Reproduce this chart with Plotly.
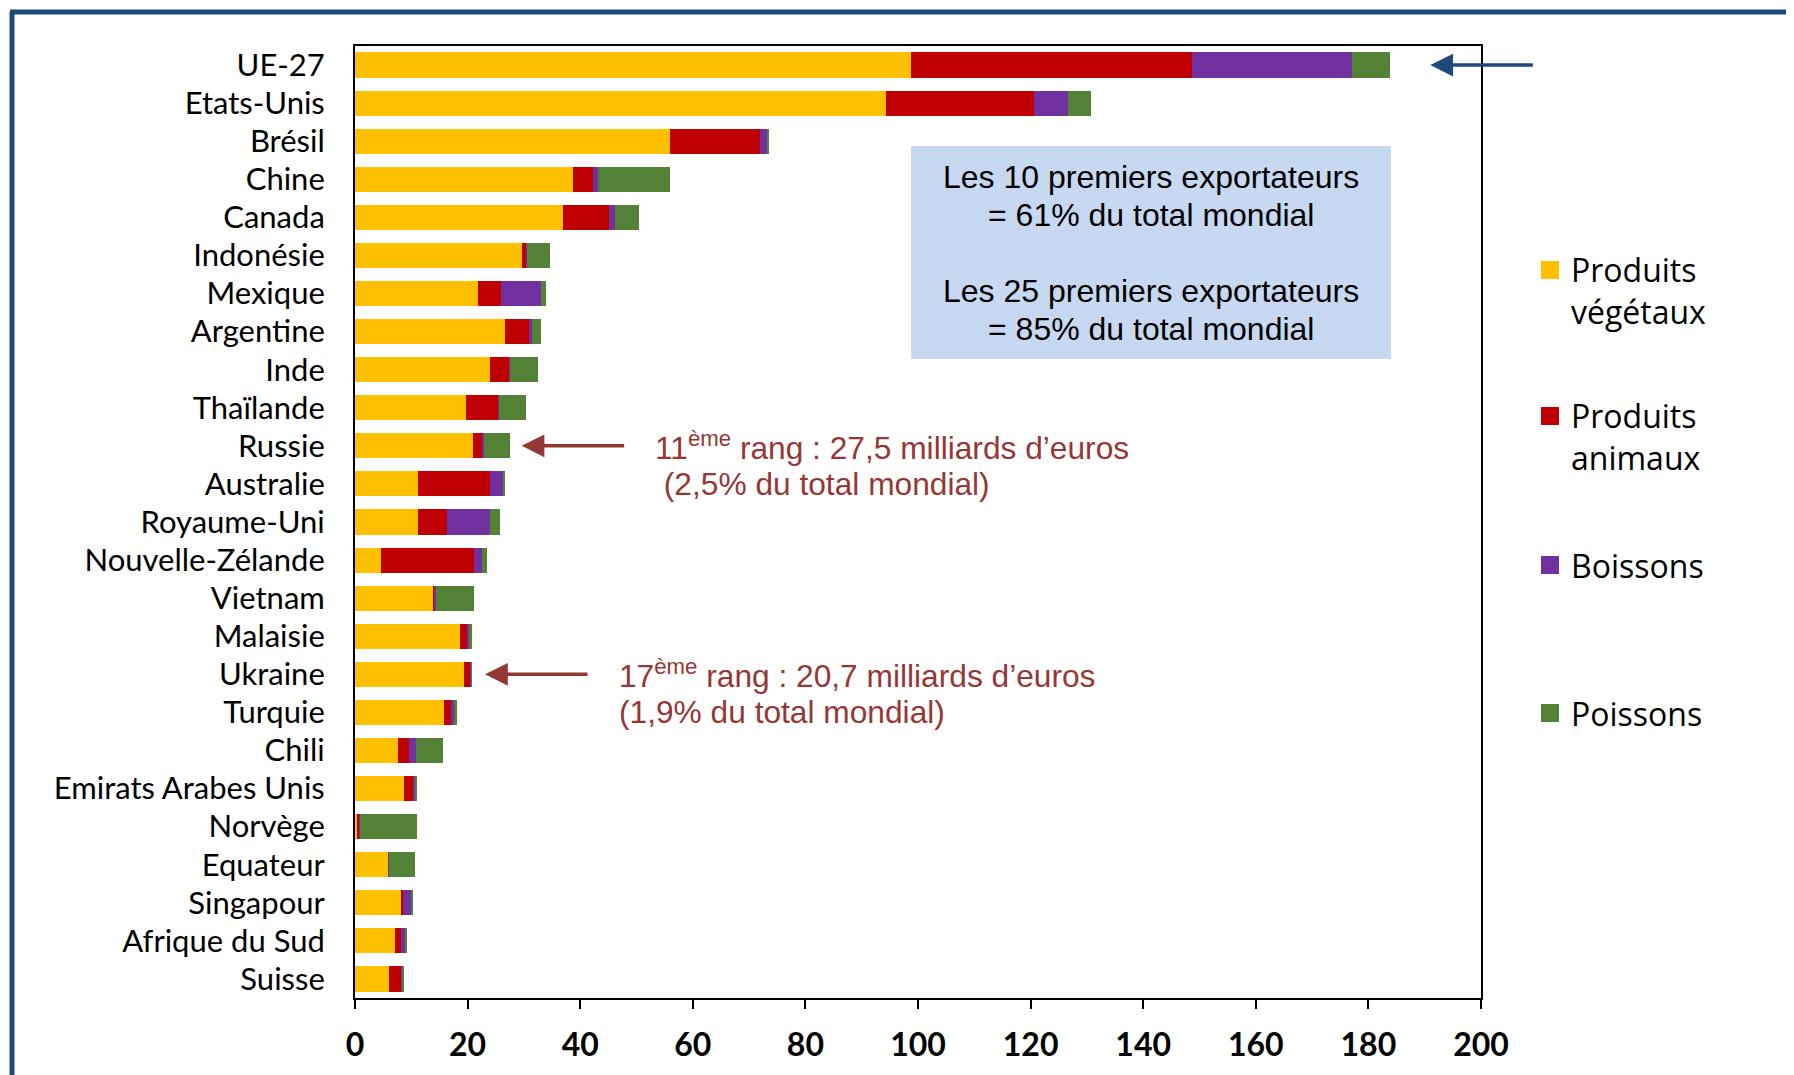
import plotly.graph_objects as go

countries = ["UE-27", "Etats-Unis", "Brésil", "Chine", "Canada", "Indonésie", "Mexique",
             "Argentine", "Inde", "Thaïlande", "Russie", "Australie", "Royaume-Uni",
             "Nouvelle-Zélande", "Vietnam", "Malaisie", "Ukraine", "Turquie", "Chili",
             "Emirats Arabes Unis", "Norvège", "Equateur", "Singapour", "Afrique du Sud", "Suisse"]

vegetaux = [98.7, 94.4, 56.0, 38.8, 37.0, 29.6, 21.9, 26.6, 24.0, 19.7, 20.9, 11.2, 11.2,
            4.7, 13.8, 18.7, 19.4, 15.8, 7.7, 8.7, 0.5, 5.9, 8.1, 7.1, 6.1]
animaux = [49.9, 26.2, 15.9, 3.4, 8.1, 0.9, 4.1, 4.3, 3.4, 5.7, 1.8, 12.8, 5.2,
           16.4, 0.4, 1.2, 1.2, 1.2, 1.9, 1.6, 0.3, 0.1, 0.4, 1.0, 2.2]
boissons = [28.5, 6.1, 1.4, 1.0, 1.0, 0.1, 7.1, 0.6, 0.2, 0.2, 0.3, 2.2, 7.6,
            1.4, 0.1, 0.5, 0.05, 0.6, 1.2, 0.4, 0.1, 0.05, 1.6, 0.8, 0.2]
poissons = [6.7, 4.1, 0.2, 12.8, 4.3, 4.1, 0.8, 1.6, 4.9, 4.7, 4.5, 0.5, 1.8,
            0.9, 6.8, 0.3, 0.05, 0.6, 4.8, 0.2, 10.1, 4.6, 0.1, 0.4, 0.2]

series_names = ["Produits<br>végétaux", "Produits<br>animaux", "Boissons", "Poissons"]
series_values = [vegetaux, animaux, boissons, poissons]
colors = ["#FFC000", "#C00000", "#7030A0", "#538135"]

x_ticks = [0, 20, 40, 60, 80, 100, 120, 140, 160, 180, 200]

box_lines = ["Les 10 premiers exportateurs", "= 61% du total mondial",
             "Les 25 premiers exportateurs", "= 85% du total mondial"]

OFF = 8  # page body margin
W, H = 1794 - OFF, 1075 - OFF
L, T = 355 - OFF, 46 - OFF
R = W - (1481 - OFF)
B = H - (998 - OFF)
pw, ph = W - L - R, H - T - B


def px(xs):
    return (xs - OFF - L) / pw


def py(ys):
    return (H - B - (ys - OFF)) / ph


fig = go.Figure()
for name, vals, col in zip(series_names, series_values, colors):
    fig.add_trace(go.Bar(y=countries, x=vals, orientation="h", name=name,
                         marker=dict(color=col, line=dict(width=0)), showlegend=False))

shapes = []
annotations = []

# manual legend
leg_y = [270, 416, 565, 713]
for i, (name, col) in enumerate(zip(series_names, colors)):
    yc = leg_y[i]
    shapes.append(dict(type="rect", xref="paper", yref="paper",
                       x0=px(1541), x1=px(1559), y0=py(yc + 9), y1=py(yc - 9),
                       fillcolor=col, line=dict(width=0)))
    two = "<br>" in name
    annotations.append(dict(xref="paper", yref="paper", x=px(1569),
                            y=py(yc + 20 if two else yc), xanchor="left", yanchor="middle",
                            text=name, showarrow=False, align="left",
                            font=dict(family="Open Sans", size=32, color="#000000")))

# info box
shapes.append(dict(type="rect", xref="paper", yref="paper", x0=px(911), x1=px(1391),
                   y0=py(359), y1=py(146), fillcolor="#C6D9F1", line=dict(width=0), layer="below"))
for txt, ys in zip(box_lines, [177, 215, 291, 329]):
    annotations.append(dict(xref="paper", yref="paper", x=px(1151), y=py(ys),
                            xanchor="center", yanchor="middle", showarrow=False, text=txt,
                            font=dict(family="Liberation Sans", size=32, color="#000000")))

red = "#953735"
notes = [
    (53.0, "Russie", "11<sup>ème</sup> rang : 27,5 milliards d’euros"),
    (53.0, "Australie", "\u00a0(2,5% du total mondial)"),
    (46.5, "Ukraine", "17<sup>ème</sup> rang : 20,7 milliards d’euros"),
    (46.5, "Turquie", "(1,9% du total mondial)"),
]
for xv, cat, txt in notes:
    annotations.append(dict(xref="x", yref="y", x=xv, y=cat, xanchor="left", yanchor="middle",
                            showarrow=False, align="left", text=txt,
                            font=dict(family="Liberation Sans", size=31.7, color=red)))

# arrows
for xh, cat, col in [(191.0, "UE-27", "#1F497D"), (29.6, "Russie", red), (23.1, "Ukraine", red)]:
    annotations.append(dict(xref="x", yref="y", x=xh, y=cat, ax=104, ay=0, text="",
                            showarrow=True, arrowhead=2, arrowsize=1.3, arrowwidth=3.5,
                            arrowcolor=col, standoff=0))

# outer frame (top & left edges visible)
shapes.append(dict(type="line", xref="paper", yref="paper", x0=px(12), x1=px(12),
                   y0=-0.2, y1=py(12), line=dict(color="#1F497D", width=5)))
shapes.append(dict(type="line", xref="paper", yref="paper", x0=px(10), x1=1.35,
                   y0=py(12), y1=py(12), line=dict(color="#1F497D", width=5)))

fig.update_layout(
    width=W, height=H, barmode="stack", bargap=0.34,
    margin=dict(l=L, r=R, t=T, b=B, autoexpand=False),
    paper_bgcolor="white", plot_bgcolor="white",
    shapes=shapes, annotations=annotations,
    xaxis=dict(range=[0, 200], tickvals=x_ticks, ticks="outside", ticklen=9, tickwidth=2,
               tickcolor="black", showline=True, linecolor="black", linewidth=2, mirror=True,
               showgrid=False, zeroline=False, ticklabelstandoff=9,
               tickfont=dict(family="Lato", size=32, color="black", weight="bold")),
    yaxis=dict(autorange="reversed", showline=True, linecolor="black", linewidth=2, mirror=True,
               showgrid=False, ticks="", ticklabelstandoff=22,
               tickfont=dict(family="Lato", size=31, color="black")),
)

fig.write_html("out.html")
